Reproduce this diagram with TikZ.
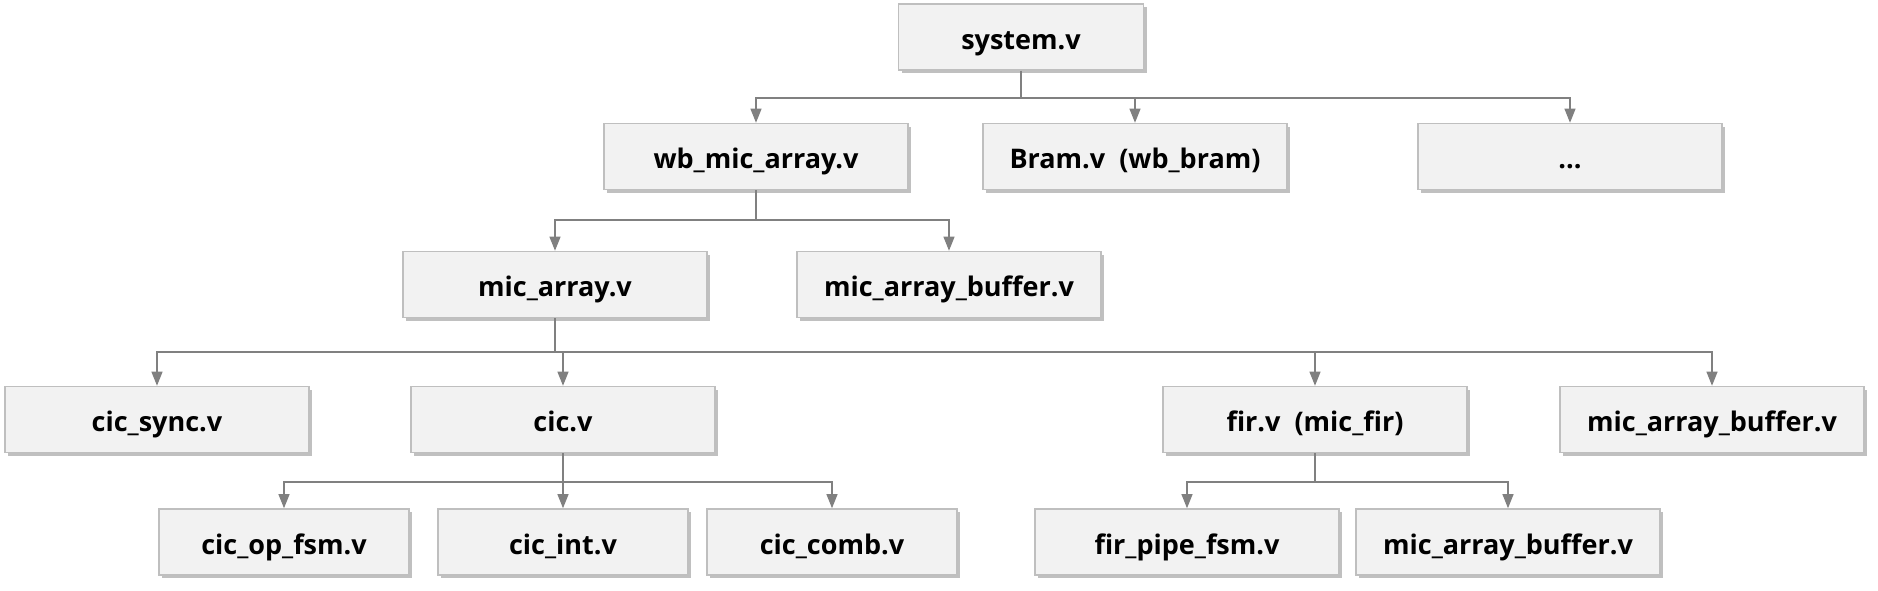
\documentclass[tikz,border=0pt]{standalone}
\usepackage{fontspec}
\setmainfont{Open Sans}
\usetikzlibrary{arrows.meta,shadows}

\definecolor{boxfill}{HTML}{F2F2F2}
\definecolor{boxline}{HTML}{BFBFBF}
\definecolor{linkgray}{HTML}{808080}

\tikzset{
  filebox/.style={draw=boxline, line width=0.8pt, fill=boxfill,
    minimum width=152pt, minimum height=33pt, inner sep=0pt,
    text height=12pt, text depth=0pt,
    font=\fontsize{13.5}{15}\selectfont\bfseries,
    drop shadow={shadow xshift=1.5pt, shadow yshift=-1.5pt, opacity=0.45, fill=black!55}},
  smallbox/.style={filebox, minimum width=125pt},
  topbox/.style={filebox, minimum width=122.5pt},
  link/.style={draw=linkgray, line width=0.55pt,
    -{Triangle[length=7pt,width=5.5pt]}}
}

\begin{document}
\begin{tikzpicture}[x=0.5pt,y=-0.5pt]

    % Fix the page size
    \useasboundingbox (0,0) rectangle (1878,590);

    % Define the bus levels
    \coordinate (bus0) at (0,98);
    \coordinate (bus1) at (0,220);
    \coordinate (bus2) at (0,352);
    \coordinate (bus3) at (0,482);

    % Top module
    \node[topbox] (sys) at (1021,37) {system.v};

    % Level 1
    \node[filebox] (wb) at (756,156.5) {wb\_mic\_array.v};
    \node[filebox] (bram) at (1135,156.5) {Bram.v\ \ (wb\_bram)};
    \node[filebox] (etc) at (1570,156.5) {...};

    % Level 2
    \node[filebox] (mic) at (555,284.5) {mic\_array.v};
    \node[filebox] (bufa) at (949,284.5) {mic\_array\_buffer.v};

    % Level 3
    \node[filebox] (sync) at (157,419.5) {cic\_sync.v};
    \node[filebox] (cic) at (563,419.5) {cic.v};
    \node[filebox] (fir) at (1315,419.5) {fir.v\ \ (mic\_fir)};
    \node[filebox] (bufb) at (1712,419.5) {mic\_array\_buffer.v};

    % Level 4
    \node[smallbox] (opfsm) at (284,542) {cic\_op\_fsm.v};
    \node[smallbox] (int) at (563,542) {cic\_int.v};
    \node[smallbox] (comb) at (832,542) {cic\_comb.v};
    \node[filebox] (pipe) at (1187,542) {fir\_pipe\_fsm.v};
    \node[filebox] (bufc) at (1508,542) {mic\_array\_buffer.v};

    % Links from system.v
    \draw[link] (sys.south) |- (wb.north |- bus0) -- (wb.north);
    \draw[link] (sys.south) |- (bram.north |- bus0) -- (bram.north);
    \draw[link] (sys.south) |- (etc.north |- bus0) -- (etc.north);

    % Links from wb_mic_array.v
    \draw[link] (wb.south) |- (mic.north |- bus1) -- (mic.north);
    \draw[link] (wb.south) |- (bufa.north |- bus1) -- (bufa.north);

    % Links from mic_array.v
    \draw[link] (mic.south) |- (sync.north |- bus2) -- (sync.north);
    \draw[link] (mic.south) |- (cic.north |- bus2) -- (cic.north);
    \draw[link] (mic.south) |- (fir.north |- bus2) -- (fir.north);
    \draw[link] (mic.south) |- (bufb.north |- bus2) -- (bufb.north);

    % Links from cic.v
    \draw[link] (cic.south) |- (opfsm.north |- bus3) -- (opfsm.north);
    \draw[link] (cic.south) |- (int.north |- bus3) -- (int.north);
    \draw[link] (cic.south) |- (comb.north |- bus3) -- (comb.north);

    % Links from fir.v
    \draw[link] (fir.south) |- (pipe.north |- bus3) -- (pipe.north);
    \draw[link] (fir.south) |- (bufc.north |- bus3) -- (bufc.north);

\end{tikzpicture}
\end{document}
